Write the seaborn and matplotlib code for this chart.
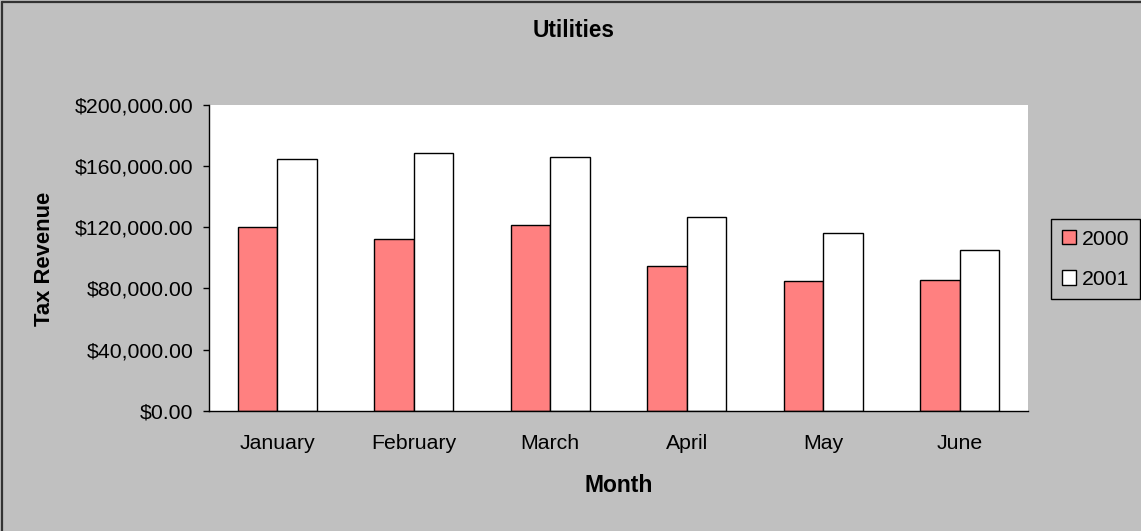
# grouped bar chart of utilities tax revenue, 2000 vs 2001

import pandas as pd
import seaborn as sns
import matplotlib.pyplot as plt
from matplotlib.lines import Line2D
from matplotlib.ticker import FuncFormatter, FixedLocator

months = ['January', 'February', 'March', 'April', 'May', 'June']
rev_2000 = [119900, 112000, 121200, 94800, 84600, 85600]
rev_2001 = [164700, 168600, 166000, 126400, 115900, 105200]
y_ticks = [0, 40000, 80000, 120000, 160000, 200000]

df = pd.DataFrame({
    'Month': months * 2,
    'Year': ['2000'] * len(months) + ['2001'] * len(months),
    'Revenue': rev_2000 + rev_2001,
})

sns.set_style('white')
plt.rcParams['font.family'] = ['Liberation Sans', 'DejaVu Sans']
plt.rcParams['text.color'] = 'black'
plt.rcParams['xtick.color'] = 'black'
plt.rcParams['ytick.color'] = 'black'
plt.rcParams['axes.labelcolor'] = 'black'

W, H = 1141, 531
fig = plt.figure(figsize=(W / 100, H / 100), dpi=100, facecolor='#C0C0C0')
ax = fig.add_axes([209 / W, 1 - 410.7 / H, 819 / W, 306 / H])
ax.set_facecolor('white')

# outer chart border (only top and left edges are visible)
fig.add_artist(Line2D([2 / W, 2 / W], [0, 1 - 2 / H], color='#333333', linewidth=1.6))
fig.add_artist(Line2D([2 / W, 1], [1 - 2 / H, 1 - 2 / H], color='#333333', linewidth=1.6))

sns.barplot(data=df, x='Month', y='Revenue', hue='Year', order=months,
            palette={'2000': '#FF8080', '2001': 'white'}, saturation=1,
            width=0.58, edgecolor='black', linewidth=1, ax=ax)

ax.set_xlim(-0.5, 5.5)
ax.set_ylim(0, 200000)
ax.set_yticks(y_ticks)
ax.yaxis.set_major_formatter(FuncFormatter(lambda v, p: '${:,.2f}'.format(v)))
ax.xaxis.set_minor_locator(FixedLocator([i - 0.5 for i in range(len(months) + 1)]))
ax.tick_params(axis='x', which='major', length=0, pad=17, labelsize=15.3)
ax.tick_params(axis='x', which='minor', length=4.3, width=1, color='black', direction='out')
ax.tick_params(axis='y', length=4.3, width=1, color='black', direction='out', left=True,
               labelsize=15.3, pad=7)

for side in ['top', 'right']:
    ax.spines[side].set_visible(False)
for side in ['left', 'bottom']:
    ax.spines[side].set_color('black')
    ax.spines[side].set_linewidth(1)

ax.set_xlabel('')
ax.set_ylabel('')
fig.text(618.5 / W, 1 - 485 / H, 'Month', ha='center', va='center',
         fontsize=16.5, fontweight='bold')
fig.text(45 / W, 1 - 259 / H, 'Tax Revenue', ha='center', va='center',
         rotation=90, fontsize=15.8, fontweight='bold')
fig.text(574 / W, 1 - 31 / H, 'Utilities', ha='center', va='center',
         fontsize=16.3, fontweight='bold')

leg = ax.legend(title=None, loc='upper left', bbox_to_anchor=(1.028, 0.6265),
                borderaxespad=0, frameon=True, fancybox=False, fontsize=15.3,
                handlelength=0.66, handleheight=0.66, handletextpad=0.28,
                borderpad=0.5, labelspacing=1.0)
leg.get_frame().set_edgecolor('black')
leg.get_frame().set_facecolor('#C0C0C0')
leg.get_frame().set_alpha(1)
leg.get_frame().set_linewidth(1)

plt.savefig('out.png', dpi=100, facecolor='#C0C0C0')
